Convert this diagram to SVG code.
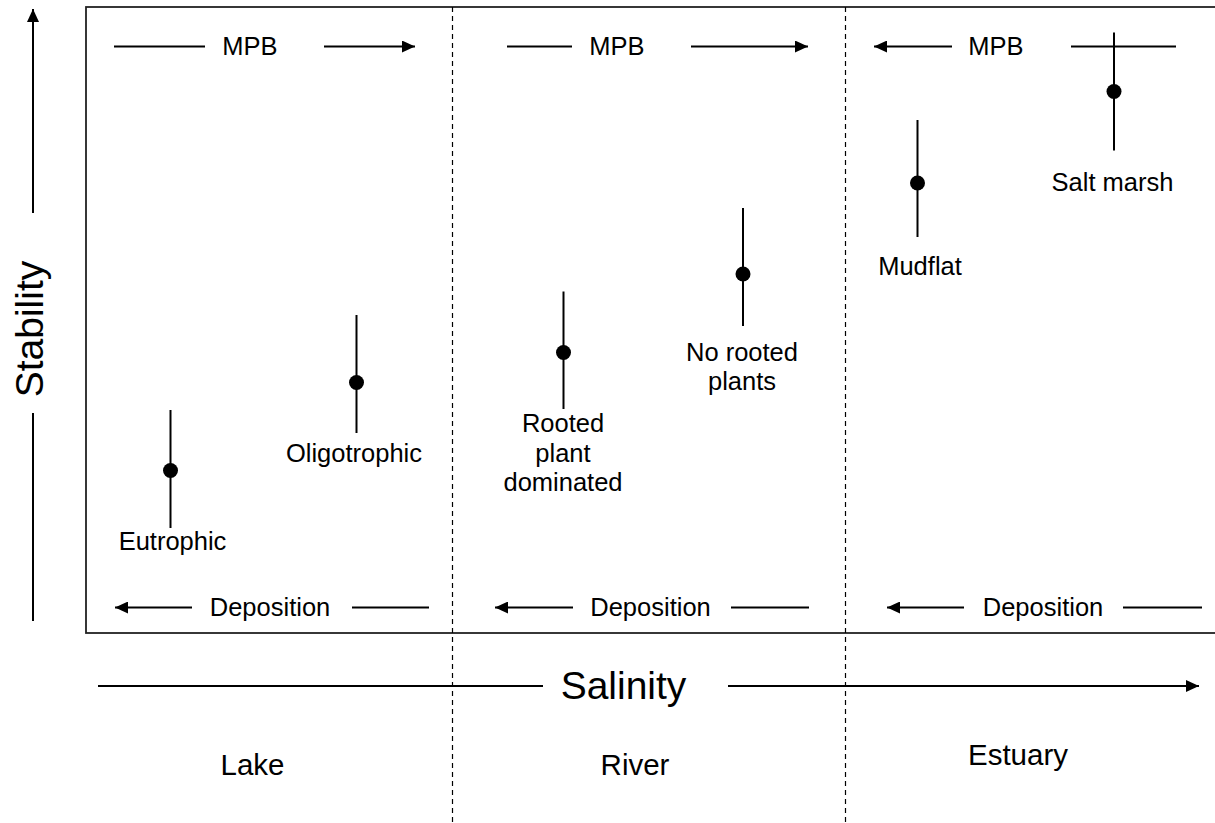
<svg xmlns="http://www.w3.org/2000/svg" width="1215" height="823" viewBox="0 0 1215 823">
<style>
  text { font-family: "Liberation Sans", Arial, sans-serif; fill: #000; }
  .lbl { font-size: 25.5px; text-anchor: middle; }
  .zone { font-size: 29.5px; text-anchor: middle; }
  .axis { font-size: 39px; text-anchor: middle; }
  .ln { stroke: #000; stroke-width: 2; fill: none; }
  .dash { stroke: #000; stroke-width: 1.2; stroke-dasharray: 5 4; fill: none; }
  .bar { stroke: #000; stroke-width: 2; }
  .dot { fill: #000; }
</style>
<defs>
  <marker id="ah" viewBox="0 0 13 12" refX="13" refY="6" markerWidth="13" markerHeight="12" markerUnits="userSpaceOnUse" orient="auto">
    <path d="M0,0 L13,6 L0,12 Z" fill="#000"/>
  </marker>
</defs>
<rect width="1215" height="823" fill="#fff"/>

<g id="frame">
  <rect x="86" y="7" width="1135" height="626" fill="none" stroke="#222" stroke-width="1.8"/>
  <line class="dash" x1="452.5" y1="7" x2="452.5" y2="823"/>
  <line class="dash" x1="845.5" y1="7" x2="845.5" y2="823"/>
</g>

<g id="connectors">
  <!-- Stability axis -->
  <line class="ln" x1="33" y1="213" x2="33" y2="9" marker-end="url(#ah)"/>
  <line class="ln" x1="33" y1="413" x2="33" y2="621"/>
  <!-- Salinity axis -->
  <line class="ln" x1="98" y1="686" x2="543" y2="686"/>
  <line class="ln" x1="728" y1="686" x2="1199" y2="686" marker-end="url(#ah)"/>
  <!-- MPB arrows -->
  <line class="ln" x1="114" y1="46.5" x2="205" y2="46.5"/>
  <line class="ln" x1="324" y1="46.5" x2="415" y2="46.5" marker-end="url(#ah)"/>
  <line class="ln" x1="507" y1="46.5" x2="572" y2="46.5"/>
  <line class="ln" x1="691" y1="46.5" x2="808" y2="46.5" marker-end="url(#ah)"/>
  <line class="ln" x1="952" y1="46.5" x2="874" y2="46.5" marker-end="url(#ah)"/>
  <line class="ln" x1="1071" y1="46.5" x2="1176" y2="46.5"/>
  <!-- Deposition arrows -->
  <line class="ln" x1="192" y1="607.5" x2="115" y2="607.5" marker-end="url(#ah)"/>
  <line class="ln" x1="352" y1="607.5" x2="429" y2="607.5"/>
  <line class="ln" x1="573" y1="607.5" x2="495" y2="607.5" marker-end="url(#ah)"/>
  <line class="ln" x1="731" y1="607.5" x2="809" y2="607.5"/>
  <line class="ln" x1="964" y1="607.5" x2="887" y2="607.5" marker-end="url(#ah)"/>
  <line class="ln" x1="1123" y1="607.5" x2="1202" y2="607.5"/>
</g>

<g id="axis-labels">
  <text class="axis" transform="translate(43,329) rotate(-90)">Stability</text>
  <text class="axis" x="623.5" y="699">Salinity</text>
</g>

<g id="flow-labels">
  <text class="lbl" x="250" y="55">MPB</text>
  <text class="lbl" x="617" y="55">MPB</text>
  <text class="lbl" x="996" y="55">MPB</text>
  <text class="lbl" x="270" y="616">Deposition</text>
  <text class="lbl" x="650.5" y="616">Deposition</text>
  <text class="lbl" x="1043" y="616">Deposition</text>
</g>

<g id="zones">
  <text class="zone" x="252.5" y="775">Lake</text>
  <text class="zone" x="635" y="775">River</text>
  <text class="zone" x="1018" y="765">Estuary</text>
</g>

<g id="eutrophic">
  <line class="bar" x1="170.5" y1="410" x2="170.5" y2="528"/>
  <circle class="dot" cx="170.5" cy="470.5" r="7.5"/>
  <text class="lbl" x="172.5" y="550">Eutrophic</text>
</g>
<g id="oligotrophic">
  <line class="bar" x1="356.5" y1="315" x2="356.5" y2="433"/>
  <circle class="dot" cx="356.5" cy="382.5" r="7.5"/>
  <text class="lbl" x="354" y="462">Oligotrophic</text>
</g>
<g id="rooted-plant">
  <line class="bar" x1="563.5" y1="291.5" x2="563.5" y2="409"/>
  <circle class="dot" cx="563.5" cy="352.5" r="7.5"/>
  <text class="lbl" x="563" y="432">Rooted</text>
  <text class="lbl" x="563" y="461.5">plant</text>
  <text class="lbl" x="563" y="491">dominated</text>
</g>
<g id="no-rooted">
  <line class="bar" x1="743" y1="208" x2="743" y2="326"/>
  <circle class="dot" cx="743" cy="274" r="7.5"/>
  <text class="lbl" x="742" y="361">No rooted</text>
  <text class="lbl" x="742" y="390">plants</text>
</g>
<g id="mudflat">
  <line class="bar" x1="917.5" y1="120" x2="917.5" y2="237"/>
  <circle class="dot" cx="917.5" cy="183" r="7.5"/>
  <text class="lbl" x="920" y="275">Mudflat</text>
</g>
<g id="salt-marsh">
  <line class="bar" x1="1114" y1="32.5" x2="1114" y2="150.5"/>
  <circle class="dot" cx="1114" cy="91.5" r="7.5"/>
  <text class="lbl" x="1112.5" y="191">Salt marsh</text>
</g>
</svg>
